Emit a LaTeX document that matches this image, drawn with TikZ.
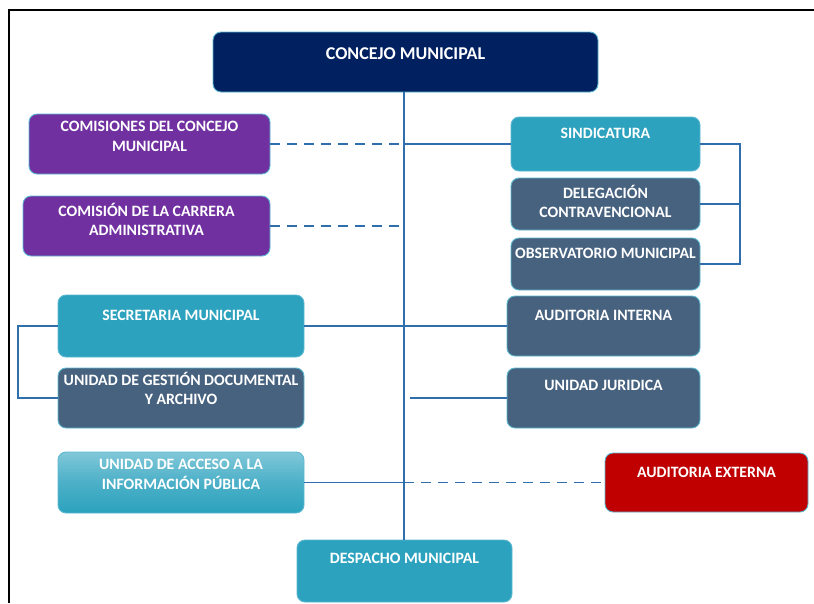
\documentclass[tikz,border=0pt]{standalone}
\usepackage{fontspec}
\setmainfont{Carlito}
\definecolor{navy}{HTML}{002060}
\definecolor{purp}{HTML}{7030A0}
\definecolor{teal}{HTML}{2CA2BE}
\definecolor{slate}{HTML}{47627F}
\definecolor{redbox}{HTML}{C00000}
\definecolor{edge}{HTML}{5BB8D0}
\definecolor{conn}{HTML}{2F6FAD}
\tikzset{
  orgbox/.style={draw=edge, line width=0.9pt, rounded corners=8pt, inner sep=0pt},
  lbl/.style={anchor=north, inner sep=0pt, text=white, align=center,
    font=\fontsize{15.8}{19.5}\selectfont\bfseries},
  biglbl/.style={lbl, font=\fontsize{18}{21}\selectfont\bfseries},
  conline/.style={draw=conn, line width=1.1pt},
  dashline/.style={conline, dash pattern=on 10pt off 7pt},
}
\newcommand{\st}{\rule{0pt}{11pt}}
\begin{document}
\begin{tikzpicture}[x=1pt,y=-1pt]
\useasboundingbox (0,0) rectangle (814,603);
% frame
\draw[line width=1.6pt] (9,603) -- (9,10) -- (814,10);
% boxes
\node[orgbox, fill=navy, minimum width=385pt, minimum height=60pt,
  label={[biglbl, yshift=-15.5pt]north:\st CONCEJO MUNICIPAL}] (concejo) at (405.5,62) {};
\node[orgbox, fill=purp, minimum width=241pt, minimum height=60pt,
  label={[lbl, yshift=-7pt]north:\st COMISIONES DEL CONCEJO\\MUNICIPAL}] (comisiones) at (149.5,144) {};
\node[orgbox, fill=purp, minimum width=247pt, minimum height=60pt,
  label={[lbl, yshift=-7pt]north:\st COMISIÓN DE LA CARRERA\\ADMINISTRATIVA}] (carrera) at (146.5,226) {};
\node[orgbox, fill=teal, minimum width=189pt, minimum height=54pt,
  label={[lbl, yshift=-11pt]north:\st SINDICATURA}] (sind) at (605.5,144) {};
\node[orgbox, fill=slate, minimum width=189pt, minimum height=52pt,
  label={[lbl, yshift=-7pt]north:\st DELEGACIÓN\\CONTRAVENCIONAL}] (deleg) at (605.5,204) {};
\node[orgbox, fill=slate, minimum width=189pt, minimum height=52pt,
  label={[lbl, yshift=-10pt]north:\st OBSERVATORIO MUNICIPAL}] (obs) at (605.5,264) {};
\node[orgbox, fill=slate, minimum width=193pt, minimum height=60pt,
  label={[lbl, yshift=-14pt]north:\st AUDITORIA INTERNA}] (aint) at (603.5,326) {};
\node[orgbox, fill=slate, minimum width=193pt, minimum height=60pt,
  label={[lbl, yshift=-12pt]north:\st UNIDAD JURIDICA}] (uj) at (603.5,398) {};
\node[orgbox, fill=redbox, minimum width=203pt, minimum height=59pt,
  label={[lbl, yshift=-14pt]north:\st AUDITORIA EXTERNA}] (aext) at (706.5,482.5) {};
\node[orgbox, fill=teal, minimum width=215pt, minimum height=62pt,
  label={[lbl, yshift=-13pt]north:\st DESPACHO MUNICIPAL}] (desp) at (404.5,571) {};
\node[orgbox, fill=teal, minimum width=246pt, minimum height=62pt,
  label={[lbl, yshift=-15pt]north:\st SECRETARIA MUNICIPAL}] (sec) at (181,326) {};
\node[orgbox, fill=slate, minimum width=246pt, minimum height=60pt,
  label={[lbl, yshift=-4pt]north:\st UNIDAD DE GESTIÓN DOCUMENTAL\\Y ARCHIVO}] (gest) at (181,398) {};
\node[orgbox, top color=teal!60!white, bottom color=teal, middle color=teal!85!white, minimum width=246pt, minimum height=61pt,
  label={[lbl, yshift=-7pt]north:\st UNIDAD DE ACCESO A LA\\INFORMACIÓN PÚBLICA}] (acc) at (181,482.5) {};
% helper coordinates
\coordinate (tx) at (404,0);
\coordinate (rx) at (740,0);
\coordinate (lx) at (18,0);
% trunk
\draw[conline] (concejo.south -| tx) -- (desp.north -| tx);
% left dashed links
\draw[dashline] (comisiones.east) -- (comisiones.east -| tx);
\draw[dashline] (carrera.east) -- ([xshift=-4pt]carrera.east -| tx);
% sindicatura
\draw[conline] (sind.west -| tx) -- (sind.west);
% right bracket
\draw[conline] (sind.east) -- (sind.east -| rx) -- (obs.east -| rx) -- (obs.east);
\draw[conline] (deleg.east) -- (deleg.east -| rx);
% secretaria and auditoria interna
\draw[conline] (sec.east) -- (aint.west);
% left bracket
\draw[conline] (sec.west) -- (sec.west -| lx) -- (gest.west -| lx) -- (gest.west);
% unidad juridica
\draw[conline] ([xshift=6pt]uj.west -| tx) -- (uj.west);
% acceso / auditoria externa
\draw[conline] (acc.east) -- (acc.east -| tx);
\draw[dashline] (acc.east -| tx) -- (aext.west);
\end{tikzpicture}
\end{document}
